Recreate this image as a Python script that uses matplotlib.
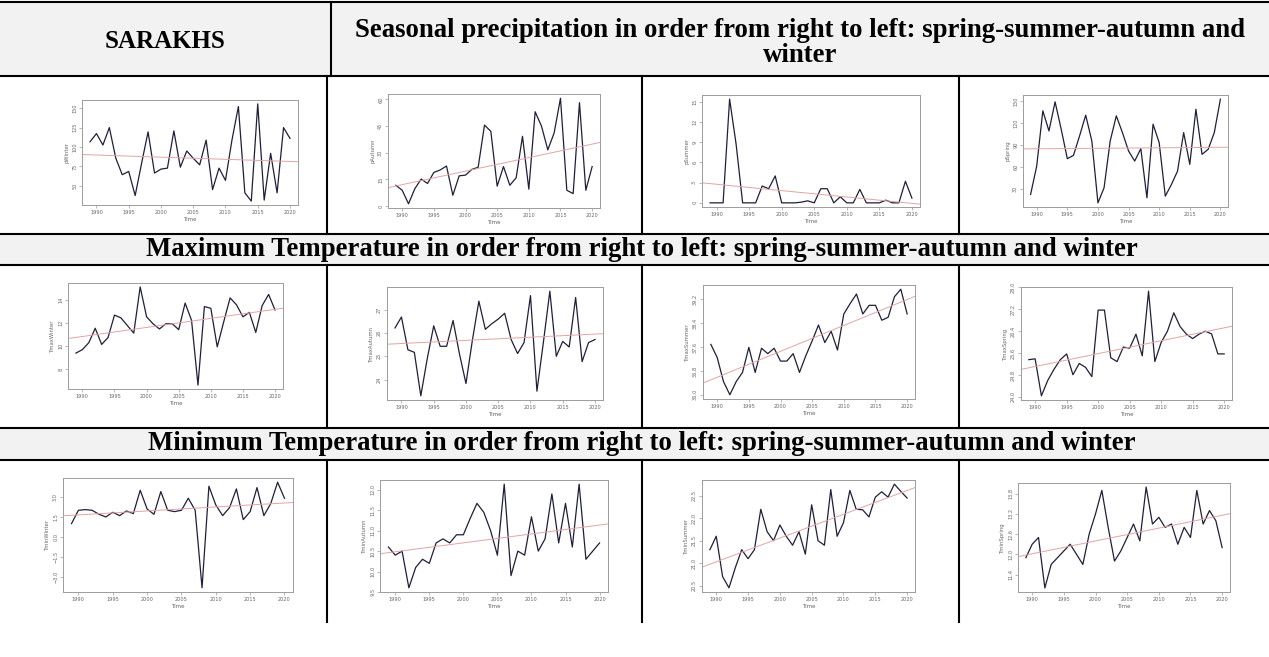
import numpy as np
import matplotlib
matplotlib.use('Agg')
import matplotlib.pyplot as plt
from matplotlib.ticker import MaxNLocator

W, H = 1269, 657

years = np.arange(1989, 2021)

# seasonal precipitation
p_winter = [106.8, 117.4, 102.6, 125.1, 85.5, 64.3, 68.5, 37.4, 79.1, 119.6,
            66.4, 71.5, 72.8, 120.9, 74.0, 94.9, 85.5, 77.0, 108.9, 45.1,
            72.8, 57.0, 108.9, 152.3, 40.9, 30.2, 155.7, 31.5, 91.9, 40.9,
            125.1, 111.1]
p_autumn = [11.7, 8.9, 1.3, 9.8, 15.2, 12.7, 18.9, 20.3, 22.5, 6.1,
            17.0, 17.4, 20.6, 21.8, 45.5, 42.0, 11.2, 22.2, 11.7, 15.9,
            39.2, 9.5, 53.0, 44.9, 31.6, 41.1, 60.6, 8.9, 7.0, 58.1,
            8.9, 22.2]
p_summer = [0, 0, 0, 15.4, 8.7, 0, 0, 0, 2.5, 2.1,
            4.0, 0, 0, 0, 0.1, 0.3, 0, 2.1, 2.1, 0,
            0.9, 0, 0, 2.0, 0, 0, 0, 0.4, 0, 0,
            3.2, 0.7]
p_spring = [22.5, 61.5, 137.2, 109.6, 149.5, 111.9, 71.6, 76.1, 102.8, 131.2,
            95.9, 11.0, 31.7, 95.9, 130.3, 107.3, 82.1, 68.3, 85.3, 17.9,
            118.8, 93.6, 20.2, 36.2, 54.6, 107.3, 63.8, 139.4, 77.5, 84.4,
            107.3, 153.2]

# maximum temperature
tmax_winter = [9.37, 9.67, 10.27, 11.52, 10.12, 10.72, 12.66, 12.42, 11.76, 11.10,
               15.10, 12.51, 11.91, 11.46, 11.91, 11.91, 11.40, 13.70, 12.21, 6.6,
               13.40, 13.25, 9.91, 12.06, 14.15, 13.55, 12.51, 12.90, 11.16, 13.49,
               14.45, 13.10]
tmax_autumn = [26.22, 26.69, 25.28, 25.17, 23.3, 24.9, 26.31, 25.43, 25.43, 26.54,
               25.09, 23.83, 25.7, 27.37, 26.16, 26.4, 26.6, 26.85, 25.72, 25.12,
               25.59, 27.61, 23.5, 25.6, 27.80, 25.0, 25.64, 25.4, 27.53, 24.77,
               25.59, 25.72]
tmax_summer = [37.69, 37.25, 36.44, 36.0, 36.44, 36.75, 37.59, 36.75, 37.56, 37.38,
               37.56, 37.13, 37.13, 37.38, 36.75, 37.31, 37.81, 38.34, 37.75, 38.13,
               37.5, 38.71, 39.06, 39.38, 38.71, 39.0, 39.0, 38.5, 38.6, 39.29,
               39.54, 38.71]
tmax_spring = [25.36, 25.39, 24.04, 24.6, 25.01, 25.36, 25.57, 24.81, 25.22, 25.08,
               24.74, 27.17, 27.17, 25.43, 25.29, 25.82, 25.78, 26.29, 25.5, 27.86,
               25.29, 25.99, 26.40, 27.07, 26.57, 26.29, 26.13, 26.29, 26.40, 26.3,
               25.57, 25.57]

# minimum temperature
tmin_winter = [1.0, 2.0, 2.05, 2.0, 1.7, 1.5, 1.85, 1.6, 1.95, 1.75,
               3.5, 2.1, 1.7, 3.4, 2.0, 1.9, 2.0, 2.9, 2.0, -3.8,
               3.8, 2.4, 1.6, 2.2, 3.6, 1.3, 1.9, 3.7, 1.6, 2.5,
               4.1, 2.9]
tmin_autumn = [10.6, 10.4, 10.5, 9.6, 10.1, 10.3, 10.2, 10.7, 10.8, 10.7,
               10.9, 10.9, 11.3, 11.67, 11.45, 11.0, 10.4, 12.14, 9.9, 10.5,
               10.4, 11.34, 10.5, 10.8, 11.9, 10.7, 11.67, 10.6, 12.14, 10.3,
               10.5, 10.7]
tmin_summer = [21.3, 21.6, 20.7, 20.45, 20.9, 21.3, 21.1, 21.3, 22.2, 21.7,
               21.5, 21.85, 21.6, 21.4, 21.7, 21.2, 22.3, 21.5, 21.4, 22.64,
               21.6, 21.9, 22.62, 22.2, 22.19, 22.03, 22.47, 22.59, 22.47, 22.76,
               22.6, 22.45]
tmin_spring = [11.9, 12.3, 12.5, 11.0, 11.7, 11.9, 12.1, 12.3, 12.0, 11.7,
               12.6, 13.2, 13.9, 12.8, 11.8, 12.1, 12.5, 12.9, 12.4, 14.0,
               12.9, 13.1, 12.8, 12.9, 12.3, 12.8, 12.5, 13.9, 12.9, 13.3,
               13.0, 12.2]

series = [[p_winter, p_autumn, p_summer, p_spring],
          [tmax_winter, tmax_autumn, tmax_summer, tmax_spring],
          [tmin_winter, tmin_autumn, tmin_summer, tmin_spring]]
ylabels = [['pWinter', 'pAutumn', 'pSummer', 'pSpring'],
           ['TmaxWinter', 'TmaxAutumn', 'TmaxSummer', 'TmaxSpring'],
           ['TminWinter', 'TminAutumn', 'TminSummer', 'TminSpring']]

header_left = 'SARAKHS'
header_right = ('Seasonal precipitation in order from right to left: spring-summer-autumn and\n'
                'winter')
band_max = 'Maximum Temperature in order from right to left: spring-summer-autumn and winter'
band_min = 'Minimum Temperature in order from right to left: spring-summer-autumn and winter'

# plot frames in pixels (x0, y0, x1, y1)
frames = [[(82, 100, 298, 205), (388, 94, 600, 208), (702, 95, 920, 207), (1023, 95, 1228, 207)],
          [(68, 283, 283, 389), (387, 287, 603, 400), (703, 285, 915, 399), (1021, 287, 1232, 400)],
          [(63, 478, 293, 592), (380, 480, 608, 592), (702, 480, 915, 592), (1018, 483, 1230, 592)]]

LINE = '#1f1f3a'
TREND = '#e2a4a4'
GREY = '#9c9c9c'
SERIF = 'Liberation Serif'


def px_rect(x0, y0, x1, y1):
    return [x0 / W, 1 - y1 / H, (x1 - x0) / W, (y1 - y0) / H]


def small_plot(fig, frame, values, ylabel):
    ax = fig.add_axes(px_rect(*frame))
    v = np.asarray(values, dtype=float)
    ax.plot(years, v, color=LINE, lw=0.9)
    k, b = np.polyfit(years, v, 1)
    xs = np.array([1987.0, 2022.0])
    ax.plot(xs, k * xs + b, color=TREND, lw=0.7)
    pad = 0.04 * (v.max() - v.min())
    ax.set_ylim(v.min() - pad, v.max() + pad)
    ax.set_xlim(1989 - 1.24, 2020 + 1.24)
    ax.set_xticks(range(1990, 2021, 5))
    ax.yaxis.set_major_locator(MaxNLocator(6))
    for s in ax.spines.values():
        s.set_color(GREY)
        s.set_linewidth(0.7)
    ax.tick_params(length=2, width=0.5, color=GREY, labelsize=3.6,
                   labelcolor='#666666', pad=1.5)
    for t in ax.get_yticklabels():
        t.set_rotation(90)
        t.set_va('center')
    ax.set_xlabel('Time', fontsize=4, color='#666666', labelpad=1.5)
    ax.set_ylabel(ylabel, fontsize=3.8, color='#666666', labelpad=2)
    return ax


fig = plt.figure(figsize=(W / 100, H / 100), dpi=100)

# table background, borders and text
bg = fig.add_axes([0, 0, 1, 1])
bg.set_xlim(0, W)
bg.set_ylim(H, 0)
bg.axis('off')

band_color = '#f2f2f2'
for y0, y1 in [(1.5, 76), (234, 265), (428, 460)]:
    bg.fill_between([0, W], y0, y1, color=band_color, lw=0)
for y in [1.5, 76, 234, 265, 428, 460]:
    bg.plot([0, W], [y, y], color='black', lw=1.5, solid_capstyle='butt')
bg.plot([331, 331], [1.5, 76], color='black', lw=1.5)
for x in [327, 642, 959]:
    for y0, y1 in [(76, 234), (265, 428), (460, 622)]:
        bg.plot([x, x], [y0, y1], color='black', lw=1.5)

bg.text(165, 42, header_left, ha='center', va='center', fontsize=18,
        fontweight='bold', family=SERIF)
bg.text(800, 43, header_right, ha='center', va='center', fontsize=19.3,
        fontweight='bold', family=SERIF, linespacing=1.05)
bg.text(642, 250, band_max, ha='center', va='center', fontsize=19.3,
        fontweight='bold', family=SERIF)
bg.text(642, 444, band_min, ha='center', va='center', fontsize=19.3,
        fontweight='bold', family=SERIF)

for r in range(3):
    for c in range(4):
        small_plot(fig, frames[r][c], series[r][c], ylabels[r][c])

fig.savefig('out.png', dpi=100)
